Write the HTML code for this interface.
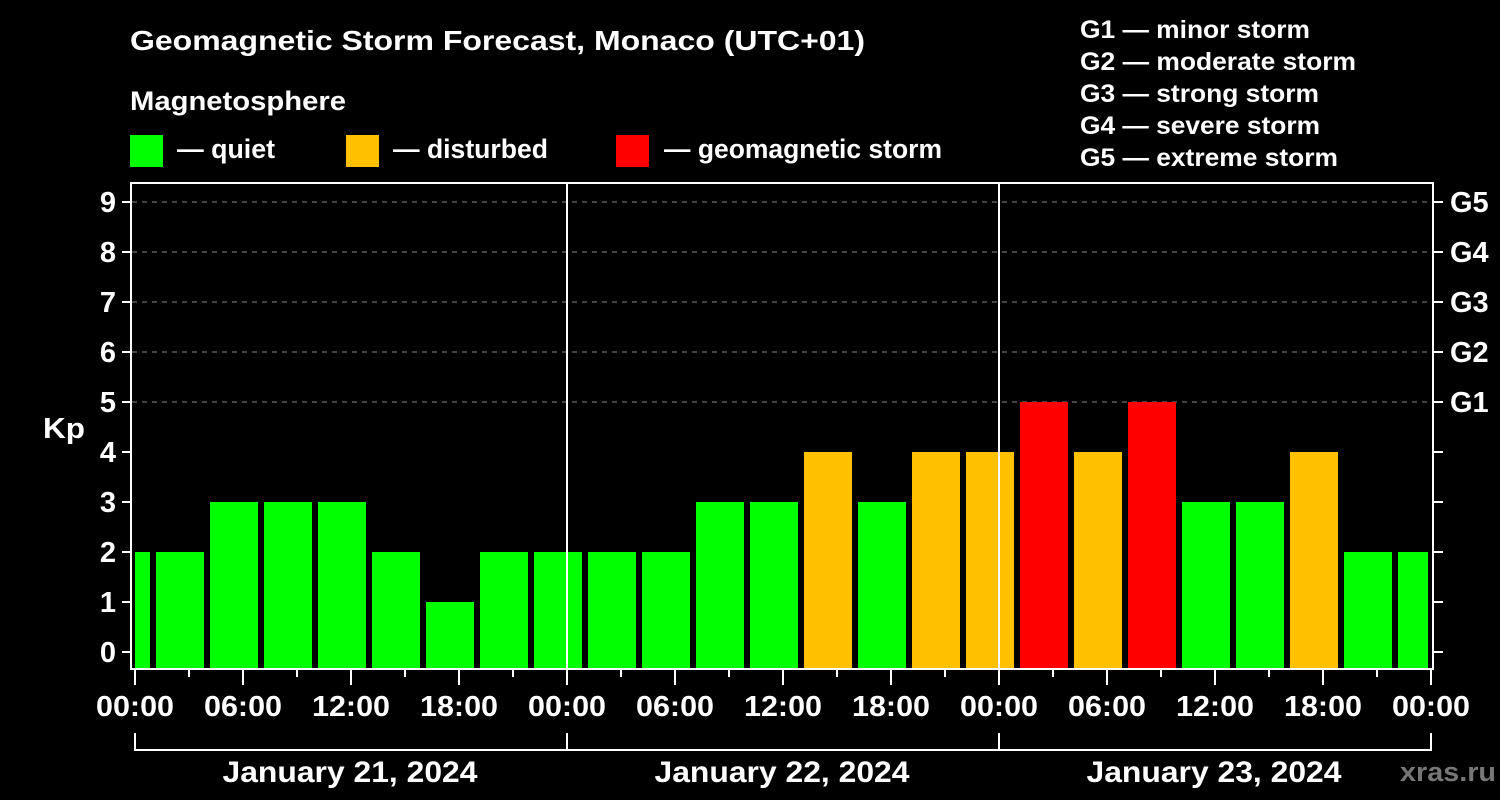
<!DOCTYPE html>
<html><head><meta charset="utf-8"><style>
html,body{margin:0;padding:0;background:#000;}
svg{display:block;}
text{font-family:"Liberation Sans",Arial,sans-serif;font-weight:bold;fill:#fff;}
</style></head><body>
<svg width="1500" height="800" viewBox="0 0 1500 800" xmlns="http://www.w3.org/2000/svg">
<rect width="1500" height="800" fill="#000"/>
<text x="130" y="50" font-size="28" textLength="735" lengthAdjust="spacingAndGlyphs">Geomagnetic Storm Forecast, Monaco (UTC+01)</text>
<text x="130" y="110" font-size="27" textLength="216" lengthAdjust="spacingAndGlyphs">Magnetosphere</text>
<rect x="130" y="135" width="33" height="32" fill="#00ff00"/>
<text x="177" y="158" font-size="27" textLength="98" lengthAdjust="spacingAndGlyphs">— quiet</text>
<rect x="346" y="135" width="33" height="32" fill="#ffc000"/>
<text x="393" y="158" font-size="27" textLength="155" lengthAdjust="spacingAndGlyphs">— disturbed</text>
<rect x="616" y="135" width="33" height="32" fill="#ff0000"/>
<text x="664" y="158" font-size="27" textLength="278" lengthAdjust="spacingAndGlyphs">— geomagnetic storm</text>
<g font-size="25">
<text x="1080" y="38" textLength="230" lengthAdjust="spacingAndGlyphs">G1 — minor storm</text>
<text x="1080" y="70" textLength="276" lengthAdjust="spacingAndGlyphs">G2 — moderate storm</text>
<text x="1080" y="102" textLength="239" lengthAdjust="spacingAndGlyphs">G3 — strong storm</text>
<text x="1080" y="134" textLength="240" lengthAdjust="spacingAndGlyphs">G4 — severe storm</text>
<text x="1080" y="166" textLength="258" lengthAdjust="spacingAndGlyphs">G5 — extreme storm</text>
</g>
<g stroke="#888" stroke-width="1" stroke-dasharray="5,5">
<line x1="132" y1="202" x2="1432" y2="202"/>
<line x1="132" y1="252" x2="1432" y2="252"/>
<line x1="132" y1="302" x2="1432" y2="302"/>
<line x1="132" y1="352" x2="1432" y2="352"/>
<line x1="132" y1="402" x2="1432" y2="402"/>
</g>
<g>
<rect x="135" y="552" width="15" height="116" fill="#00ff00"/>
<rect x="156" y="552" width="48" height="116" fill="#00ff00"/>
<rect x="210" y="502" width="48" height="166" fill="#00ff00"/>
<rect x="264" y="502" width="48" height="166" fill="#00ff00"/>
<rect x="318" y="502" width="48" height="166" fill="#00ff00"/>
<rect x="372" y="552" width="48" height="116" fill="#00ff00"/>
<rect x="426" y="602" width="48" height="66" fill="#00ff00"/>
<rect x="480" y="552" width="48" height="116" fill="#00ff00"/>
<rect x="534" y="552" width="48" height="116" fill="#00ff00"/>
<rect x="588" y="552" width="48" height="116" fill="#00ff00"/>
<rect x="642" y="552" width="48" height="116" fill="#00ff00"/>
<rect x="696" y="502" width="48" height="166" fill="#00ff00"/>
<rect x="750" y="502" width="48" height="166" fill="#00ff00"/>
<rect x="804" y="452" width="48" height="216" fill="#ffc000"/>
<rect x="858" y="502" width="48" height="166" fill="#00ff00"/>
<rect x="912" y="452" width="48" height="216" fill="#ffc000"/>
<rect x="966" y="452" width="48" height="216" fill="#ffc000"/>
<rect x="1020" y="402" width="48" height="266" fill="#ff0000"/>
<rect x="1074" y="452" width="48" height="216" fill="#ffc000"/>
<rect x="1128" y="402" width="48" height="266" fill="#ff0000"/>
<rect x="1182" y="502" width="48" height="166" fill="#00ff00"/>
<rect x="1236" y="502" width="48" height="166" fill="#00ff00"/>
<rect x="1290" y="452" width="48" height="216" fill="#ffc000"/>
<rect x="1344" y="552" width="48" height="116" fill="#00ff00"/>
<rect x="1398" y="552" width="30" height="116" fill="#00ff00"/>
</g>
<rect x="131" y="183" width="1302" height="486" fill="none" stroke="#fff" stroke-width="2"/>
<line x1="567" y1="183" x2="567" y2="669" stroke="#fff" stroke-width="2"/>
<line x1="999" y1="183" x2="999" y2="669" stroke="#fff" stroke-width="2"/>
<g stroke="#fff" stroke-width="2">
<line x1="122" y1="202" x2="131" y2="202"/><line x1="1433" y1="202" x2="1443" y2="202"/>
<line x1="122" y1="252" x2="131" y2="252"/><line x1="1433" y1="252" x2="1443" y2="252"/>
<line x1="122" y1="302" x2="131" y2="302"/><line x1="1433" y1="302" x2="1443" y2="302"/>
<line x1="122" y1="352" x2="131" y2="352"/><line x1="1433" y1="352" x2="1443" y2="352"/>
<line x1="122" y1="402" x2="131" y2="402"/><line x1="1433" y1="402" x2="1443" y2="402"/>
<line x1="122" y1="452" x2="131" y2="452"/><line x1="1433" y1="452" x2="1443" y2="452"/>
<line x1="122" y1="502" x2="131" y2="502"/><line x1="1433" y1="502" x2="1443" y2="502"/>
<line x1="122" y1="552" x2="131" y2="552"/><line x1="1433" y1="552" x2="1443" y2="552"/>
<line x1="122" y1="602" x2="131" y2="602"/><line x1="1433" y1="602" x2="1443" y2="602"/>
<line x1="122" y1="652" x2="131" y2="652"/><line x1="1433" y1="652" x2="1443" y2="652"/>
</g>
<g font-size="29" text-anchor="end">
<text x="116" y="212">9</text><text x="116" y="262">8</text><text x="116" y="312">7</text>
<text x="116" y="362">6</text><text x="116" y="412">5</text><text x="116" y="462">4</text>
<text x="116" y="512">3</text><text x="116" y="562">2</text><text x="116" y="612">1</text>
<text x="116" y="662">0</text>
</g>
<text x="43" y="438" font-size="29" textLength="42" lengthAdjust="spacingAndGlyphs">Kp</text>
<g font-size="29">
<text x="1450" y="212">G5</text><text x="1450" y="262">G4</text><text x="1450" y="312">G3</text>
<text x="1450" y="362">G2</text><text x="1450" y="412">G1</text>
</g>
<g stroke="#fff" stroke-width="2">
<line x1="135" y1="670" x2="135" y2="685"/><line x1="189" y1="670" x2="189" y2="677"/>
<line x1="243" y1="670" x2="243" y2="685"/><line x1="297" y1="670" x2="297" y2="677"/>
<line x1="351" y1="670" x2="351" y2="685"/><line x1="405" y1="670" x2="405" y2="677"/>
<line x1="459" y1="670" x2="459" y2="685"/><line x1="513" y1="670" x2="513" y2="677"/>
<line x1="567" y1="670" x2="567" y2="685"/><line x1="621" y1="670" x2="621" y2="677"/>
<line x1="675" y1="670" x2="675" y2="685"/><line x1="729" y1="670" x2="729" y2="677"/>
<line x1="783" y1="670" x2="783" y2="685"/><line x1="837" y1="670" x2="837" y2="677"/>
<line x1="891" y1="670" x2="891" y2="685"/><line x1="945" y1="670" x2="945" y2="677"/>
<line x1="999" y1="670" x2="999" y2="685"/><line x1="1053" y1="670" x2="1053" y2="677"/>
<line x1="1107" y1="670" x2="1107" y2="685"/><line x1="1161" y1="670" x2="1161" y2="677"/>
<line x1="1215" y1="670" x2="1215" y2="685"/><line x1="1269" y1="670" x2="1269" y2="677"/>
<line x1="1323" y1="670" x2="1323" y2="685"/><line x1="1377" y1="670" x2="1377" y2="677"/>
<line x1="1431" y1="670" x2="1431" y2="685"/>
</g>
<g font-size="29" text-anchor="middle">
<text x="135" y="716" textLength="78" lengthAdjust="spacingAndGlyphs">00:00</text><text x="243" y="716" textLength="78" lengthAdjust="spacingAndGlyphs">06:00</text><text x="351" y="716" textLength="78" lengthAdjust="spacingAndGlyphs">12:00</text>
<text x="459" y="716" textLength="78" lengthAdjust="spacingAndGlyphs">18:00</text><text x="567" y="716" textLength="78" lengthAdjust="spacingAndGlyphs">00:00</text><text x="675" y="716" textLength="78" lengthAdjust="spacingAndGlyphs">06:00</text>
<text x="783" y="716" textLength="78" lengthAdjust="spacingAndGlyphs">12:00</text><text x="891" y="716" textLength="78" lengthAdjust="spacingAndGlyphs">18:00</text><text x="999" y="716" textLength="78" lengthAdjust="spacingAndGlyphs">00:00</text>
<text x="1107" y="716" textLength="78" lengthAdjust="spacingAndGlyphs">06:00</text><text x="1215" y="716" textLength="78" lengthAdjust="spacingAndGlyphs">12:00</text><text x="1323" y="716" textLength="78" lengthAdjust="spacingAndGlyphs">18:00</text>
<text x="1431" y="716" textLength="78" lengthAdjust="spacingAndGlyphs">00:00</text>
</g>
<g stroke="#fff" stroke-width="2" fill="none">
<line x1="134" y1="750" x2="1432" y2="750"/>
<line x1="135" y1="733" x2="135" y2="750"/>
<line x1="567" y1="733" x2="567" y2="750"/>
<line x1="999" y1="733" x2="999" y2="750"/>
<line x1="1431" y1="733" x2="1431" y2="750"/>
</g>
<g font-size="30" text-anchor="middle">
<text x="350" y="782" textLength="255" lengthAdjust="spacingAndGlyphs">January 21, 2024</text>
<text x="782" y="782" textLength="255" lengthAdjust="spacingAndGlyphs">January 22, 2024</text>
<text x="1214" y="782" textLength="255" lengthAdjust="spacingAndGlyphs">January 23, 2024</text>
</g>
<text x="1400" y="781" font-size="27" textLength="96" lengthAdjust="spacingAndGlyphs" style="fill:#777">xras.ru</text>
</svg>
</body></html>
